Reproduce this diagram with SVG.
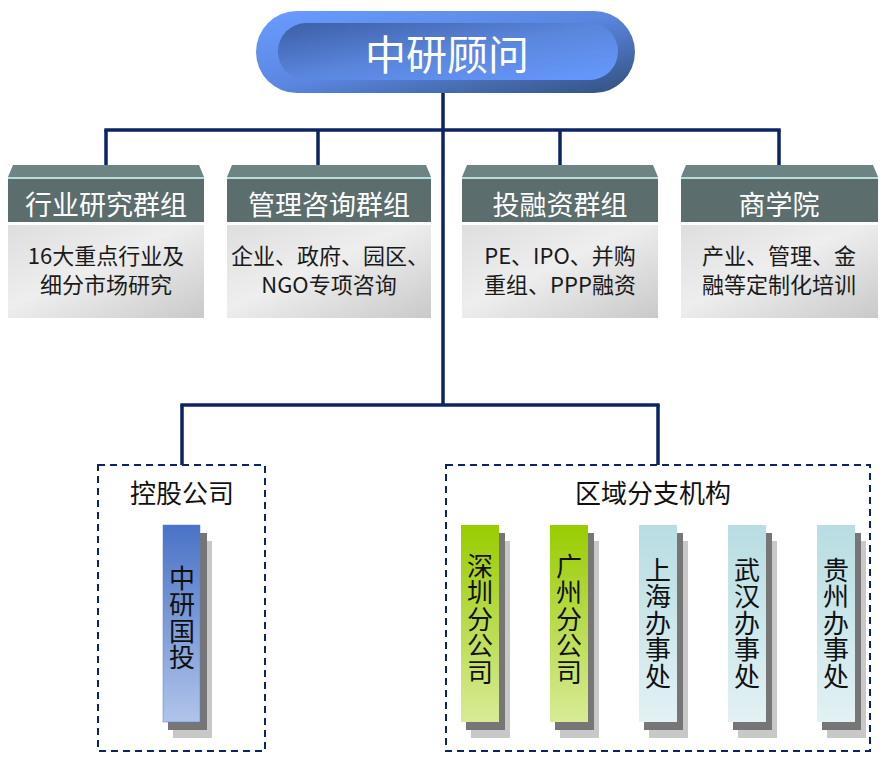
<svg xmlns="http://www.w3.org/2000/svg" width="891" height="762" viewBox="0 0 891 762">
<defs>
<linearGradient id="gOuter" x1="0" y1="0" x2="1" y2="1">
<stop offset="0" stop-color="#6a9cff"/><stop offset="0.5" stop-color="#5a86e0"/><stop offset="1" stop-color="#32507e"/>
</linearGradient>
<linearGradient id="gInner" x1="0" y1="0" x2="1" y2="1">
<stop offset="0" stop-color="#3c5ea6"/><stop offset="0.5" stop-color="#5a86dc"/><stop offset="1" stop-color="#6699ff"/>
</linearGradient>
<linearGradient id="gBody" x1="0" y1="0" x2="1" y2="1">
<stop offset="0" stop-color="#dedede"/><stop offset="0.45" stop-color="#eeeeee"/><stop offset="1" stop-color="#c9c9c9"/>
</linearGradient>
<linearGradient id="gBlue" x1="0" y1="0" x2="0" y2="1">
<stop offset="0" stop-color="#4a72c6"/><stop offset="1" stop-color="#b0c4ea"/>
</linearGradient>
<linearGradient id="gGreen" x1="0" y1="0" x2="0" y2="1">
<stop offset="0" stop-color="#99cc00"/><stop offset="1" stop-color="#d8eb96"/>
</linearGradient>
<linearGradient id="gCyan" x1="0" y1="0" x2="0" y2="1">
<stop offset="0" stop-color="#b8dde2"/><stop offset="1" stop-color="#e2f1f4"/>
</linearGradient>
</defs>
<style>
text{font-family:"Noto Sans CJK SC","Noto Sans",sans-serif;text-anchor:middle;dominant-baseline:central}
.ln{stroke:#0b2464;stroke-width:3.5;fill:none}
.dash{stroke:#0b2464;stroke-width:2;fill:none;stroke-dasharray:7 5}
.bevel{fill:#6e8383}
.hl{fill:#b9dcdc}
.hdr{fill:#5b6d6d}
.body{fill:url(#gBody)}
.ht{fill:#ffffff;font-size:27px}
.bt{fill:#1a1a1a;font-size:22px}
.lbl{fill:#111;font-size:26px}
.vt{fill:#111;font-size:26px;writing-mode:vertical-rl;letter-spacing:0.5px}
.sh1{fill:#c8c8c8}
.sh2{fill:#767676}
</style>

<g id="connectors">
<line class="ln" x1="443" y1="92" x2="443" y2="405"/>
<line class="ln" x1="104.3" y1="130" x2="780.7" y2="130"/>
<line class="ln" x1="106" y1="130" x2="106" y2="166"/>
<line class="ln" x1="318" y1="130" x2="318" y2="166"/>
<line class="ln" x1="560" y1="130" x2="560" y2="166"/>
<line class="ln" x1="779" y1="130" x2="779" y2="166"/>
<line class="ln" x1="180.3" y1="405" x2="659.7" y2="405"/>
<line class="ln" x1="182" y1="405" x2="182" y2="465"/>
<line class="ln" x1="658" y1="405" x2="658" y2="465"/>
</g>

<g id="root">
<rect x="256" y="11" width="379" height="82" rx="41" fill="url(#gOuter)"/>
<rect x="278" y="23" width="340" height="57" rx="28.5" fill="url(#gInner)"/>
<text x="447" y="52" font-size="41" fill="#ffffff">中研顾问</text>
</g>

<g id="g1">
<polygon class="bevel" points="13,165 199,165 204,177 8,177"/>
<rect class="hl" x="8" y="177" width="196" height="2"/>
<rect class="hdr" x="8" y="179" width="196" height="43"/>
<rect class="body" x="8" y="225" width="196" height="93"/>
<text class="ht" x="106" y="203">行业研究群组</text>
<text class="bt" x="106" y="254">16大重点行业及</text>
<text class="bt" x="106" y="283">细分市场研究</text>
</g>

<g id="g2">
<polygon class="bevel" points="232,165 426,165 431,177 227,177"/>
<rect class="hl" x="227" y="177" width="204" height="2"/>
<rect class="hdr" x="227" y="179" width="204" height="43"/>
<rect class="body" x="227" y="225" width="204" height="93"/>
<text class="ht" x="329" y="203">管理咨询群组</text>
<text class="bt" x="330" y="254">企业、政府、园区、</text>
<text class="bt" x="329" y="283">NGO专项咨询</text>
</g>

<g id="g3">
<polygon class="bevel" points="467,165 653,165 658,177 462,177"/>
<rect class="hl" x="462" y="177" width="196" height="2"/>
<rect class="hdr" x="462" y="179" width="196" height="43"/>
<rect class="body" x="462" y="225" width="196" height="93"/>
<text class="ht" x="560" y="203">投融资群组</text>
<text class="bt" x="560" y="254">PE、IPO、并购</text>
<text class="bt" x="560" y="283">重组、PPP融资</text>
</g>

<g id="g4">
<polygon class="bevel" points="686,165 873,165 878,177 681,177"/>
<rect class="hl" x="681" y="177" width="197" height="2"/>
<rect class="hdr" x="681" y="179" width="197" height="43"/>
<rect class="body" x="681" y="225" width="197" height="93"/>
<text class="ht" x="779" y="203">商学院</text>
<text class="bt" x="779" y="254">产业、管理、金</text>
<text class="bt" x="779" y="283">融等定制化培训</text>
</g>

<g id="holding">
<rect class="dash" x="98" y="465" width="167" height="286"/>
<text class="lbl" x="182" y="491">控股公司</text>
</g>

<g id="regional">
<rect class="dash" x="446" y="465" width="424" height="286"/>
<text class="lbl" x="653" y="491">区域分支机构</text>
</g>

<g id="zygt">
<rect class="sh1" x="173" y="541" width="39" height="197"/>
<rect class="sh2" x="168" y="533" width="39" height="197"/>
<rect x="163" y="525" width="37" height="197" fill="url(#gBlue)" stroke="#5a7ec8" stroke-width="0.5"/>
<text class="vt" x="182" y="618">中研国投</text>
</g>

<g id="shenzhen">
<rect class="sh1" x="471" y="541" width="39" height="197"/>
<rect class="sh2" x="466" y="533" width="39" height="197"/>
<rect x="461" y="525" width="38" height="197" fill="url(#gGreen)"/>
<text class="vt" x="480" y="619">深圳分公司</text>
</g>

<g id="guangzhou">
<rect class="sh1" x="560" y="541" width="39" height="197"/>
<rect class="sh2" x="555" y="533" width="39" height="197"/>
<rect x="550" y="525" width="38" height="197" fill="url(#gGreen)"/>
<text class="vt" x="569" y="619">广州分公司</text>
</g>

<g id="shanghai">
<rect class="sh1" x="649" y="541" width="39" height="197"/>
<rect class="sh2" x="644" y="533" width="39" height="197"/>
<rect x="639" y="525" width="38" height="197" fill="url(#gCyan)"/>
<text class="vt" x="658" y="623">上海办事处</text>
</g>

<g id="wuhan">
<rect class="sh1" x="738" y="541" width="39" height="197"/>
<rect class="sh2" x="733" y="533" width="39" height="197"/>
<rect x="728" y="525" width="38" height="197" fill="url(#gCyan)"/>
<text class="vt" x="747" y="623">武汉办事处</text>
</g>

<g id="guizhou">
<rect class="sh1" x="827" y="541" width="39" height="197"/>
<rect class="sh2" x="822" y="533" width="39" height="197"/>
<rect x="817" y="525" width="38" height="197" fill="url(#gCyan)"/>
<text class="vt" x="836" y="623">贵州办事处</text>
</g>
</svg>
